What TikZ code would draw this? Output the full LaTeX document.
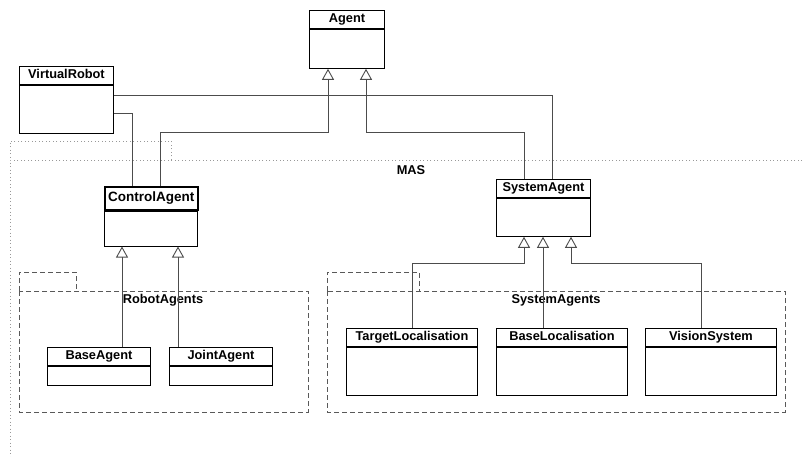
\documentclass[tikz,border=0pt]{standalone}
\usepackage{fontspec}
\setmainfont{Liberation Sans}
\usetikzlibrary{arrows.meta}

\tikzset{
  classhead/.style={draw, line width=0.9pt, anchor=north west, inner sep=0pt,
    minimum height=18pt, text height=9.5pt, text depth=2.5pt,
    font=\fontsize{12.8}{13}\selectfont\bfseries},
  classbody/.style={draw, line width=0.9pt, anchor=north west, inner sep=0pt},
  inherit/.style={draw=black!70, line width=0.9pt,
    -{Triangle[open, length=11pt, width=12pt, line width=0.9pt]}},
  assoc/.style={draw=black!70, line width=0.9pt},
  pkg/.style={draw=black!65, line width=0.9pt, dash pattern=on 5pt off 3pt},
  mas/.style={draw=black!40, line width=0.9pt, dash pattern=on 1pt off 2.5pt},
  pkglabel/.style={font=\fontsize{12.8}{13}\selectfont\bfseries, inner sep=0pt}
}

\begin{document}
\begin{tikzpicture}[x=1pt, y=-1pt]
  \useasboundingbox (0,0) rectangle (802,457);

  % packages
  \draw[mas] (171,160) -- (171,141) -- (10,141) -- (10,160);
  \draw[mas] (802,160) -- (10,160) -- (10,457);
  \node[pkglabel] (maslabel) at (411,170) {MAS};

  \draw[pkg] (19,291) -- (19,272) -- (76,272) -- (76,291);
  \draw[pkg] (19,291) rectangle (308,412);
  \node[pkglabel] (robotlabel) at (163,300) {RobotAgents};

  \draw[pkg] (327,291) -- (327,272) -- (419,272) -- (419,291);
  \draw[pkg] (327,291) rectangle (785,412);
  \node[pkglabel] (systemlabel) at (556,300) {SystemAgents};

  % classes
  \node[classhead, minimum width=75pt] (agent) at (309,10) {Agent};
  \node[classbody, minimum width=75pt, minimum height=39pt] (agentb) at (agent.south west) {};

  \node[classhead, minimum width=94pt] (vrobot) at (19,66) {VirtualRobot};
  \node[classbody, minimum width=94pt, minimum height=48pt] (vrobotb) at (vrobot.south west) {};

  \node[classhead, minimum width=93pt, minimum height=23pt, line width=1.6pt,
    font=\fontsize{13.5}{14}\selectfont\bfseries] (ctrl) at (104,186) {ControlAgent};
  \node[classbody, minimum width=93pt, minimum height=35pt] (ctrlb) at (ctrl.south west) {};

  \node[classhead, minimum width=94pt] (sysagent) at (496,179) {SystemAgent};
  \node[classbody, minimum width=94pt, minimum height=38pt] (sysagentb) at (sysagent.south west) {};

  \node[classhead, minimum width=103pt] (baseagent) at (47,347) {BaseAgent};
  \node[classbody, minimum width=103pt, minimum height=19pt] (baseagentb) at (baseagent.south west) {};

  \node[classhead, minimum width=103pt] (jointagent) at (169,347) {JointAgent};
  \node[classbody, minimum width=103pt, minimum height=19pt] (jointagentb) at (jointagent.south west) {};

  \node[classhead, minimum width=131pt] (target) at (346,328) {TargetLocalisation};
  \node[classbody, minimum width=131pt, minimum height=48pt] (targetb) at (target.south west) {};

  \node[classhead, minimum width=131pt] (baseloc) at (496,328) {BaseLocalisation};
  \node[classbody, minimum width=131pt, minimum height=48pt] (baselocb) at (baseloc.south west) {};

  \node[classhead, minimum width=131pt] (vision) at (645,328) {VisionSystem};
  \node[classbody, minimum width=131pt, minimum height=48pt] (visionb) at (vision.south west) {};

  % associations
  \draw[assoc] ([yshift=-11pt]vrobotb.north east) -| ([xshift=-38pt]sysagent.north east);
  \draw[assoc] ([yshift=-29pt]vrobotb.north east) -| ([xshift=28pt]ctrl.north west);

  % generalisations
  \draw[inherit] ([xshift=56pt]ctrl.north west) |- (328,132) -- ([xshift=19pt]agentb.south west);
  \draw[inherit] ([xshift=28pt]sysagent.north west) |- (366,132) -- ([xshift=57pt]agentb.south west);

  \draw[inherit] ([xshift=75pt]baseagent.north west) -- ([xshift=18pt]ctrlb.south west);
  \draw[inherit] ([xshift=9pt]jointagent.north west) -- ([xshift=74pt]ctrlb.south west);

  \draw[inherit] ([xshift=66pt]target.north west) |- (524,263) -- ([xshift=28pt]sysagentb.south west);
  \draw[inherit] ([xshift=47pt]baseloc.north west) -- ([xshift=47pt]sysagentb.south west);
  \draw[inherit] ([xshift=56pt]vision.north west) |- (571,263) -- ([xshift=75pt]sysagentb.south west);
\end{tikzpicture}
\end{document}
